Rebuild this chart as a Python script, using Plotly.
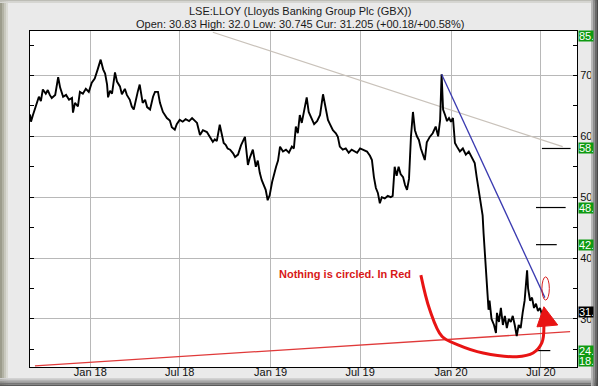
import plotly.graph_objects as go

# ---------------- data ----------------
dates = [
    "2017-09-01", "2017-09-03", "2017-09-07", "2017-09-13", "2017-09-19", "2017-09-23", "2017-09-27",
    "2017-10-03", "2017-10-07", "2017-10-11", "2017-10-15", "2017-10-22", "2017-10-28",
    "2017-11-01", "2017-11-07", "2017-11-13", "2017-11-19", "2017-11-25", "2017-11-27",
    "2017-12-01", "2017-12-07", "2017-12-11", "2017-12-17", "2017-12-23", "2017-12-29",
    "2018-01-04", "2018-01-10", "2018-01-16", "2018-01-22", "2018-01-27", "2018-01-31",
    "2018-02-04", "2018-02-06", "2018-02-10", "2018-02-14", "2018-02-20", "2018-02-24",
    "2018-03-02", "2018-03-06", "2018-03-12", "2018-03-16", "2018-03-22", "2018-03-26", "2018-03-30",
    "2018-04-03", "2018-04-07", "2018-04-11", "2018-04-17", "2018-04-22", "2018-04-26",
    "2018-05-02", "2018-05-08", "2018-05-12", "2018-05-18", "2018-05-22", "2018-05-28",
    "2018-06-01", "2018-06-05", "2018-06-11", "2018-06-15", "2018-06-21", "2018-06-25",
    "2018-07-01", "2018-07-07", "2018-07-13", "2018-07-20", "2018-07-26",
    "2018-08-01", "2018-08-05", "2018-08-11", "2018-08-17", "2018-08-25", "2018-08-31",
    "2018-09-06", "2018-09-10", "2018-09-14", "2018-09-20", "2018-09-24", "2018-09-28",
    "2018-10-02", "2018-10-06", "2018-10-11", "2018-10-17", "2018-10-21", "2018-10-27",
    "2018-11-02", "2018-11-10", "2018-11-16", "2018-11-20", "2018-11-26",
    "2018-12-02", "2018-12-06", "2018-12-10", "2018-12-14", "2018-12-18", "2018-12-22", "2018-12-26", "2018-12-30",
    "2019-01-04", "2019-01-08", "2019-01-12", "2019-01-16", "2019-01-20", "2019-01-26",
    "2019-02-01", "2019-02-07", "2019-02-13", "2019-02-17", "2019-02-21", "2019-02-25",
    "2019-03-01", "2019-03-05", "2019-03-09", "2019-03-15", "2019-03-19", "2019-03-23", "2019-03-30",
    "2019-04-05", "2019-04-11", "2019-04-17", "2019-04-23", "2019-04-27",
    "2019-05-01", "2019-05-07", "2019-05-13", "2019-05-17", "2019-05-21", "2019-05-27",
    "2019-06-02", "2019-06-08", "2019-06-14", "2019-06-20", "2019-06-25",
    "2019-07-01", "2019-07-07", "2019-07-15", "2019-07-21", "2019-07-25", "2019-07-29",
    "2019-08-02", "2019-08-06", "2019-08-10", "2019-08-14", "2019-08-20", "2019-08-26",
    "2019-09-01", "2019-09-05", "2019-09-09", "2019-09-13", "2019-09-17", "2019-09-21", "2019-09-26", "2019-09-30",
    "2019-10-04", "2019-10-08", "2019-10-12", "2019-10-16", "2019-10-20", "2019-10-24", "2019-10-28",
    "2019-11-01", "2019-11-05", "2019-11-09", "2019-11-13", "2019-11-19", "2019-11-25",
    "2019-12-01", "2019-12-06", "2019-12-10", "2019-12-13", "2019-12-16", "2019-12-20", "2019-12-24", "2019-12-28",
    "2020-01-01", "2020-01-05", "2020-01-09", "2020-01-13", "2020-01-19", "2020-01-25", "2020-01-31",
    "2020-02-06", "2020-02-12", "2020-02-18", "2020-02-22", "2020-02-26",
    "2020-03-01", "2020-03-05", "2020-03-07", "2020-03-09", "2020-03-11", "2020-03-13", "2020-03-15",
    "2020-03-17", "2020-03-19", "2020-03-23", "2020-03-28",
    "2020-04-01", "2020-04-03", "2020-04-07", "2020-04-11", "2020-04-15", "2020-04-19", "2020-04-23", "2020-04-27",
    "2020-05-01", "2020-05-05", "2020-05-09", "2020-05-13", "2020-05-17", "2020-05-21", "2020-05-25", "2020-05-29",
    "2020-06-03", "2020-06-05", "2020-06-09", "2020-06-13", "2020-06-17", "2020-06-21", "2020-06-25", "2020-06-29",
    "2020-07-03", "2020-07-07", "2020-07-11", "2020-07-13",
]
prices = [
    63.6, 62.4, 63.5, 65.0, 66.5, 65.8, 67.7,
    67.0, 67.6, 66.8, 66.3, 66.8, 69.7,
    68.0, 66.5, 66.8, 66.0, 66.3, 63.9,
    65.5, 64.9, 67.3, 67.0, 67.8, 67.3,
    68.8, 69.5, 71.0, 72.6, 71.0, 70.3,
    68.5, 66.4, 67.5, 67.0, 70.5, 69.0,
    68.2, 66.9, 67.8, 66.8, 66.0, 64.9, 64.4,
    66.0, 67.3, 68.5, 65.5, 66.0, 64.8,
    64.4, 66.5, 67.3, 67.3, 65.5, 64.0,
    63.5, 63.0, 62.6, 61.5, 61.1, 62.0,
    62.7, 62.4, 62.8, 62.5, 63.0,
    62.5, 62.2, 60.2, 61.0, 60.7, 60.0,
    59.1, 59.5, 59.2, 61.9, 60.5, 58.9,
    58.6, 58.0, 57.8, 57.2, 56.6, 57.0,
    58.5, 59.9, 55.3, 56.5, 57.8,
    55.0, 56.0, 54.0, 52.8, 52.0, 51.2, 49.5, 50.3,
    52.5, 54.0, 55.0, 56.0, 58.3, 57.5,
    57.8, 57.3, 58.3, 58.0, 61.6, 60.5,
    63.5, 62.2, 64.0, 66.4, 64.0, 63.2, 62.0,
    62.5, 63.5, 66.9, 64.5, 62.7,
    62.0, 61.0, 60.5, 59.9, 58.3, 57.8,
    58.0, 57.3, 57.8, 57.5, 57.3,
    58.0, 57.8, 57.5, 56.8, 56.1, 53.3,
    51.5, 50.7, 49.0, 50.0, 49.8, 50.2,
    50.0, 50.2, 55.0, 53.5, 55.0, 53.8, 53.3, 52.0,
    51.2, 53.0, 60.0, 64.0, 61.0, 60.0, 59.4,
    58.0, 57.0, 56.1, 59.0, 59.9, 60.5,
    61.6, 60.0, 62.7, 70.2, 64.4, 63.5, 62.5, 63.0,
    62.4, 63.0, 58.9, 58.3, 57.5, 58.0, 57.0,
    57.5, 56.6, 55.6, 53.3, 51.0,
    49.0, 47.0, 44.0, 41.0, 38.5, 36.5, 34.0,
    31.5, 33.0, 30.0, 29.0,
    27.7, 31.0, 29.5, 31.8, 29.0, 30.5, 28.5, 30.0,
    29.5, 30.5, 29.0, 27.2, 29.0, 28.5, 31.0, 33.0,
    38.0, 35.0, 33.0, 33.5, 31.8, 32.5, 31.3, 31.8,
    30.8, 31.5, 30.8, 31.2,
]

grey_trend_dates = ["2018-09-06", "2020-08-14"]
grey_trend_values = [77.1, 58.3]
blue_trend_dates = ["2019-12-13", "2020-07-09"]
blue_trend_values = [70.2, 33.5]
red_trend_dates = ["2017-09-11", "2020-08-29"]
red_trend_values = [22.3, 27.9]

target_levels = [58.0, 48.3, 42.2, 24.8]
target_starts = ["2020-07-03", "2020-06-21", "2020-06-21", "2020-06-23"]
target_ends = ["2020-08-30", "2020-08-20", "2020-08-02", "2020-07-20"]

label_texts = ["85.0", "58.0", "48.3", "42.2", "31.2", "24.8", "18.0"]
label_values = [76.4, 58.0, 48.3, 42.2, 31.2, 24.8, 23.1]
label_is_current = [False, False, False, False, True, False, False]

arrow_dates = ["2019-11-01", "2019-11-19", "2019-12-14", "2020-01-15", "2020-03-06",
               "2020-05-13", "2020-06-15", "2020-07-03", "2020-07-07"]
arrow_values = [37.2, 31.5, 27.1, 25.75, 24.4, 23.8, 24.4, 26.1, 28.9]
arrowhead_dates = ["2020-06-23", "2020-07-07", "2020-08-04", "2020-06-23"]
arrowhead_values = [28.7, 32.0, 29.0, 28.7]

ellipse_x = ["2020-07-03", "2020-07-18"]
ellipse_y = [33.1, 36.9]

note_date = "2019-05-31"
note_value = 37.4
note_text = "Nothing is circled. In Red"

x_tickvals = ["2018-01-01", "2018-07-01", "2019-01-01", "2019-07-01", "2020-01-01", "2020-07-01"]
x_ticktext = ["Jan 18", "Jul 18", "Jan 19", "Jul 19", "Jan 20", "Jul 20"]

title_text = "LSE:LLOY (Lloyds Banking Group Plc (GBX))"
subtitle_text = "Open: 30.83 High: 32.0 Low: 30.745 Cur: 31.205 (+00.18/+00.58%)"

# ---------------- figure ----------------
W, H = 598, 386
ML, MR, MT, MB = 30, 21, 31, 19
PW, PH = W - ML - MR, H - MT - MB


def px(x):
    return (x - ML) / PW


def py(y):
    return (H - MB - y) / PH


FONT = "Liberation Sans, Arial, sans-serif"
GREEN = "#0f9a12"

fig = go.Figure()

fig.add_trace(go.Scatter(x=grey_trend_dates, y=grey_trend_values, mode="lines",
                         line=dict(color="#c9c2ba", width=1.2), hoverinfo="skip"))
fig.add_trace(go.Scatter(x=red_trend_dates, y=red_trend_values, mode="lines",
                         line=dict(color="#e03a3a", width=1.3), hoverinfo="skip"))
fig.add_trace(go.Scatter(x=dates, y=prices, mode="lines",
                         line=dict(color="#000000", width=1.9), hoverinfo="skip"))
fig.add_trace(go.Scatter(x=blue_trend_dates, y=blue_trend_values, mode="lines",
                         line=dict(color="#3a3ab0", width=1.3), hoverinfo="skip"))

for lvl, s, e in zip(target_levels, target_starts, target_ends):
    fig.add_trace(go.Scatter(x=[s, e], y=[lvl, lvl], mode="lines",
                             line=dict(color="#000000", width=1.2), hoverinfo="skip"))

fig.add_trace(go.Scatter(x=arrow_dates, y=arrow_values, mode="lines",
                         line=dict(color="#e81414", width=3, shape="spline", smoothing=1.0),
                         hoverinfo="skip"))
fig.add_trace(go.Scatter(x=arrowhead_dates, y=arrowhead_values, mode="lines", fill="toself",
                         fillcolor="#e81414", line=dict(color="#e81414", width=1),
                         hoverinfo="skip"))

shapes = []
shapes.append(dict(type="circle", xref="x", yref="y", x0=ellipse_x[0], x1=ellipse_x[1],
                   y0=ellipse_y[0], y1=ellipse_y[1], line=dict(color="#d82020", width=1)))


def band(x0, x1, y0, y1, color):
    return dict(type="rect", xref="paper", yref="paper", x0=px(x0), x1=px(x1),
                y0=py(y1), y1=py(y0), fillcolor=color, line=dict(width=0), layer="above")


# bevelled frame
left_cols = ["#9c9c8c", "#b2b2a4", "#c8c8be", "#dadad4"]
for i, c in enumerate(left_cols):
    shapes.append(band(i * 2, i * 2 + 2, 0, H, c))
top_cols = ["#bdbdb6", "#d6d6d2"]
for i, c in enumerate(top_cols):
    shapes.append(band(0, W, i * 1.5, i * 1.5 + 1.5, c))
bottom_cols = ["#d2d2d2", "#b4b4b4", "#969696", "#767676", "#5a5a5a"]
for i, c in enumerate(bottom_cols):
    shapes.append(band(0, W, 378 + i * 1.6, 378 + (i + 1) * 1.6, c))
right_cols = ["#b8b8b8", "#8e8e8e", "#6a6a6a", "#4a4a4a"]
for i, c in enumerate(right_cols):
    shapes.append(band(591 + i * 1.75, 591 + (i + 1) * 1.75, 0, H, c))

annotations = []
annotations.append(dict(xref="paper", yref="paper", x=px(W / 2 + 1), y=py(11), text=title_text,
                        showarrow=False, xanchor="center", yanchor="middle",
                        font=dict(family=FONT, size=11, color="#1a1a1a")))
annotations.append(dict(xref="paper", yref="paper", x=px(W / 2 + 1), y=py(24.5), text=subtitle_text,
                        showarrow=False, xanchor="center", yanchor="middle",
                        font=dict(family=FONT, size=11, color="#1a1a1a")))
annotations.append(dict(xref="x", yref="y", x=note_date, y=note_value, text="<b>" + note_text + "</b>",
                        showarrow=False, xanchor="center", yanchor="middle",
                        font=dict(family=FONT, size=11, color="#d81818")))
for t, v, cur in zip(label_texts, label_values, label_is_current):
    annotations.append(dict(xref="paper", yref="y", x=1, y=v, xshift=1, text=t, showarrow=False,
                            xanchor="left", yanchor="middle", align="left", width=14, height=10,
                            borderpad=0, bgcolor="#000000" if cur else GREEN,
                            font=dict(family=FONT, size=11, color="#ffffff")))

fig.update_layout(
    width=W, height=H,
    margin=dict(l=ML, r=MR, t=MT, b=MB, autoexpand=False),
    paper_bgcolor="#eaeaea",
    plot_bgcolor="#ffffff",
    showlegend=False,
    shapes=shapes,
    annotations=annotations,
    font=dict(family=FONT, size=11, color="#111111"),
)
fig.update_xaxes(
    range=["2017-09-01", "2020-09-12"],
    tickvals=x_tickvals, ticktext=x_ticktext,
    showgrid=True, gridcolor="#b8b8b8", gridwidth=1,
    showline=True, linecolor="#000000", linewidth=1, mirror=True,
    ticks="", ticklabelstandoff=-5, tickfont=dict(family=FONT, size=11, color="#111111"),
    zeroline=False, fixedrange=True, automargin=False,
)
fig.update_yaxes(
    range=[22.1, 77.3], side="right",
    tickvals=[30, 40, 50, 60, 70],
    showgrid=True, gridcolor="#b8b8b8", gridwidth=1,
    showline=True, linecolor="#000000", linewidth=1, mirror="ticks",
    ticks="inside", ticklen=4, tickcolor="#000000",
    minor=dict(tickvals=[25, 35, 45, 55, 65, 75], ticks="inside", ticklen=4, tickcolor="#000000", showgrid=False),
    tickfont=dict(family=FONT, size=11, color="#111111"),
    zeroline=False, fixedrange=True, automargin=False,
)

fig.write_html(
    "out.html",
    config={"displayModeBar": False},
    post_script="document.body.style.margin='0';document.body.style.overflow='hidden';",
)
